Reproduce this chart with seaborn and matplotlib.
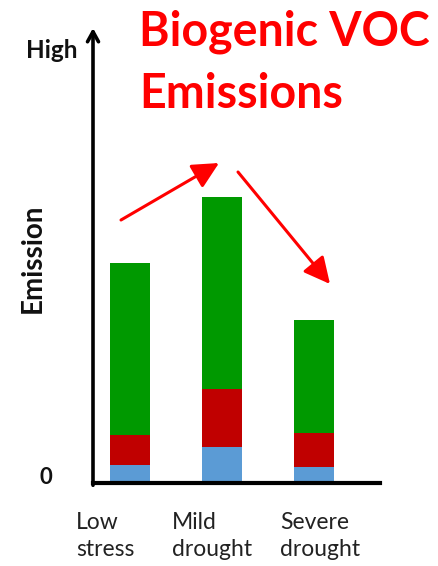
import matplotlib
matplotlib.use("Agg")
import matplotlib.pyplot as plt
import matplotlib.patches as mpatches
import seaborn as sns
import pandas as pd

categories = ["Low\nstress", "Mild\ndrought", "Severe\ndrought"]
blue_vals = [17, 35, 15]
red_vals = [30, 58, 34]
green_vals = [172, 192, 113]
title_lines = ["Biogenic VOC", "Emissions"]
ylabel_text = "Emission"
y_top_label = "High"
y_bottom_label = "0"

sns.set_theme(style="white")
plt.rcParams['font.family'] = ['Lato', 'DejaVu Sans']

W, H = 439, 566
fig = plt.figure(figsize=(W / 100, H / 100), dpi=100)
# axes in pixel coordinates: left 93, right 380, bottom 483, top 28
ax = fig.add_axes([93 / W, 1 - 483 / H, (380 - 93) / W, (483 - 28) / H])

df = pd.DataFrame({
    "cat": categories,
    "blue": blue_vals,
    "red": red_vals,
    "green": green_vals,
})
df["lvl1"] = df["blue"]
df["lvl2"] = df["blue"] + df["red"]
df["lvl3"] = df["lvl2"] + df["green"]

bw = 0.43
for col, c in [("lvl3", "#009900"), ("lvl2", "#C00000"), ("lvl1", "#5B9BD5")]:
    sns.barplot(data=df, x="cat", y=col, color=c, saturation=1, width=bw,
                linewidth=0, edgecolor="none", ax=ax)

ax.set_xlim(-0.4, 2.72)
ax.set_ylim(-1, 454)
ax.set_xticks([])
ax.set_yticks([])
ax.set_xlabel("")
ax.set_ylabel("")
for s in ["top", "right", "left"]:
    ax.spines[s].set_visible(False)
ax.spines["bottom"].set_color("black")
ax.spines["bottom"].set_linewidth(3)

# y axis with open arrow head
ax.annotate("", xy=(0, 1.0), xycoords="axes fraction", xytext=(0, -0.005),
            textcoords="axes fraction",
            arrowprops=dict(arrowstyle="->,head_length=0.6,head_width=0.33", lw=2.6,
                            color="black", shrinkA=0, shrinkB=0))

def fpx(x, y):
    return x / W, 1 - y / H

fig.text(*fpx(78, 50), y_top_label, ha="right", va="center", fontsize=17.5,
         fontweight="bold", color="#111111")
fig.text(*fpx(46, 477), y_bottom_label, ha="center", va="center", fontsize=16,
         fontweight="bold", color="#111111")
fig.text(*fpx(33, 258), ylabel_text, ha="center", va="center", rotation=90,
         fontsize=20, fontweight="bold", color="#111111")

label_x = [76, 172, 280]
for lx, lab in zip(label_x, categories):
    fig.text(*fpx(lx, 536), lab, ha="left", va="center", fontsize=16.5,
             color="#222222", linespacing=1.4)

for ty, line in zip([46, 108], title_lines):
    fig.text(*fpx(139, ty), line, ha="left", va="baseline", fontsize=33.5,
             fontweight="bold", color="#FF0000")

# red trend arrows
for (x0, y0), (x1, y1) in [((121, 220), (219, 163)), ((238, 172), (330, 284))]:
    fig.add_artist(mpatches.FancyArrowPatch(
        fpx(x0, y0), fpx(x1, y1), transform=fig.transFigure,
        arrowstyle="-|>,head_length=8,head_width=4", lw=2.2, color="#FF0000",
        mutation_scale=2, shrinkA=0, shrinkB=0))

fig.savefig("out.png", dpi=100)
